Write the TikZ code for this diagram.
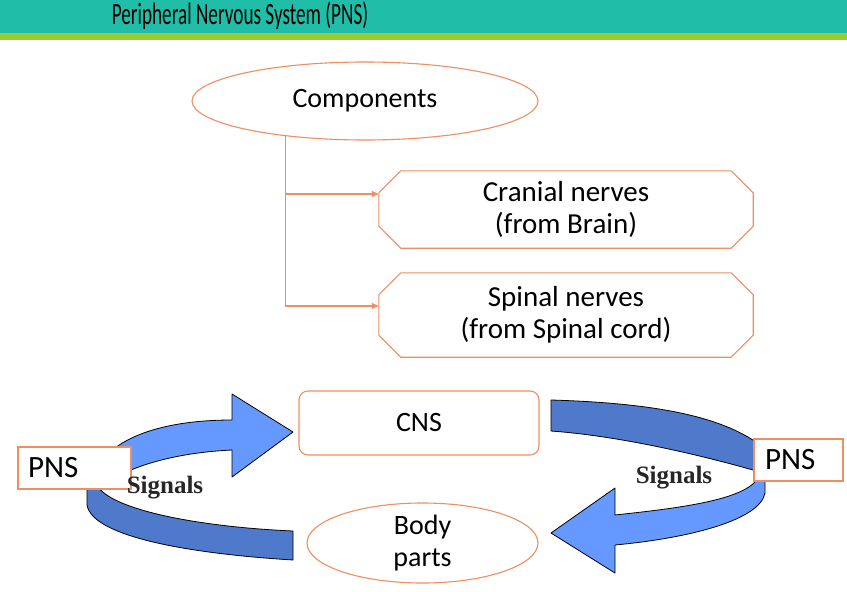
\documentclass[tikz,border=0pt]{standalone}
\usepackage{fontspec}
\setmainfont{Carlito}
\newfontfamily\sigfont{Liberation Serif}
\usetikzlibrary{shapes.geometric,arrows.meta}
\definecolor{teal1}{HTML}{20BEA8}
\definecolor{green1}{HTML}{9ACD32}
\definecolor{edgec}{HTML}{EE8E62}
\definecolor{lblue}{HTML}{6699FF}
\definecolor{dblue}{HTML}{4F7ACB}
\begin{document}
\begin{tikzpicture}[x=1pt,y=-1pt,
  txt/.style={font=\fontsize{28}{32}\selectfont},
  outl/.style={draw=edgec,line width=1.1pt},
  octbox/.style={font=\fontsize{29}{32}\selectfont,align=center,minimum width=374pt,inner sep=0pt},
  pnsbox/.style={font=\fontsize{31}{32}\selectfont,outl,fill=white,align=left,minimum height=42pt,inner ysep=0pt},
  conn/.style={draw=edgec,line width=1.1pt,-{Triangle[length=7pt,width=6pt]}},
  band/.style={draw=black,line width=0.8pt,line join=round},
  sig/.style={font=\sigfont\bfseries\fontsize{25}{28}\selectfont,text=black!85}]
\useasboundingbox (0,0) rectangle (847,592);
\fill[white] (0,0) rectangle (847,592);
\fill[teal1] (0,0) rectangle (847,33);
\fill[green1] (0,33) rectangle (847,40);
\node[anchor=base,inner sep=0pt] (title) at (240,24) {\fontsize{31}{36}\selectfont\scalebox{0.62}[1]{Peripheral Nervous System (PNS)}};

% components
\node[txt,outl,ellipse,minimum width=346pt,minimum height=78pt,inner sep=0pt] (comp) at (365,101) {Components};
\node[octbox,minimum height=77pt] (cran) at (566,209.5) {Cranial nerves\\ (from Brain)};
\node[octbox,minimum height=84pt] (spin) at (566,315) {Spinal nerves\\(from Spinal cord)};
\draw[outl] ([xshift=22pt]cran.north west) -- ([xshift=-22pt]cran.north east) -- ([yshift=-22pt]cran.north east)
  -- ([yshift=22pt]cran.south east) -- ([xshift=-22pt]cran.south east) -- ([xshift=22pt]cran.south west)
  -- ([yshift=22pt]cran.south west) -- ([yshift=-22pt]cran.north west) -- cycle;
\draw[outl] ([xshift=22pt]spin.north west) -- ([xshift=-22pt]spin.north east) -- ([yshift=-22pt]spin.north east)
  -- ([yshift=22pt]spin.south east) -- ([xshift=-22pt]spin.south east) -- ([xshift=22pt]spin.south west)
  -- ([yshift=22pt]spin.south west) -- ([yshift=-22pt]spin.north west) -- cycle;
\coordinate (ca) at ([yshift=15.5pt]cran.west);
\coordinate (sa) at ([yshift=9pt]spin.west);
\draw[conn] (comp.204) |- (sa);
\draw[conn] (comp.204 |- ca) -- (ca);

% cycle
\node[txt,outl,rounded corners=9pt,minimum width=240pt,minimum height=64pt] (cns) at (419,423) {CNS};
\node[txt,outl,ellipse,minimum width=231pt,minimum height=80pt,inner sep=0pt,align=center] (body) at (422.5,543) {Body\\parts};

% left upper arrow (light)
\filldraw[band,fill=lblue] (293,432) -- (232,394) -- (232,420) .. controls (180,420) and (135,430) .. (110,452)
  -- (120,475) .. controls (150,460) and (190,452) .. (232,450) -- (232,477) -- cycle;
% left lower band (dark)
\filldraw[band,fill=dblue] (293,531) .. controls (200,527) and (110,510) .. (97,485) -- (87,485) -- (87,505)
  .. controls (92,535) and (180,553) .. (293,560) -- cycle;
% right upper band (dark)
\filldraw[band,fill=dblue] (551,400) .. controls (650,403) and (720,415) .. (760,445) -- (760,470) -- (753,470)
  .. controls (700,455) and (620,436) .. (551,431) -- cycle;
% right lower arrow (light)
\filldraw[band,fill=lblue] (551,533) -- (615,488) -- (615,515) .. controls (680,508) and (745,500) .. (758,478)
  -- (765,478) -- (765,493) .. controls (760,520) and (690,538) .. (615,545) -- (615,573) -- cycle;

\node[pnsbox,text width=93pt,inner xsep=10pt] (pnsl) at (74.5,468) {PNS};
\node[pnsbox,text width=67pt,inner xsep=11pt] (pnsr) at (798.5,460) {PNS};
\node[sig,anchor=base] (sigl) at (165,493) {Signals};
\node[sig,anchor=base] (sigr) at (674,483) {Signals};
\end{tikzpicture}
\end{document}
